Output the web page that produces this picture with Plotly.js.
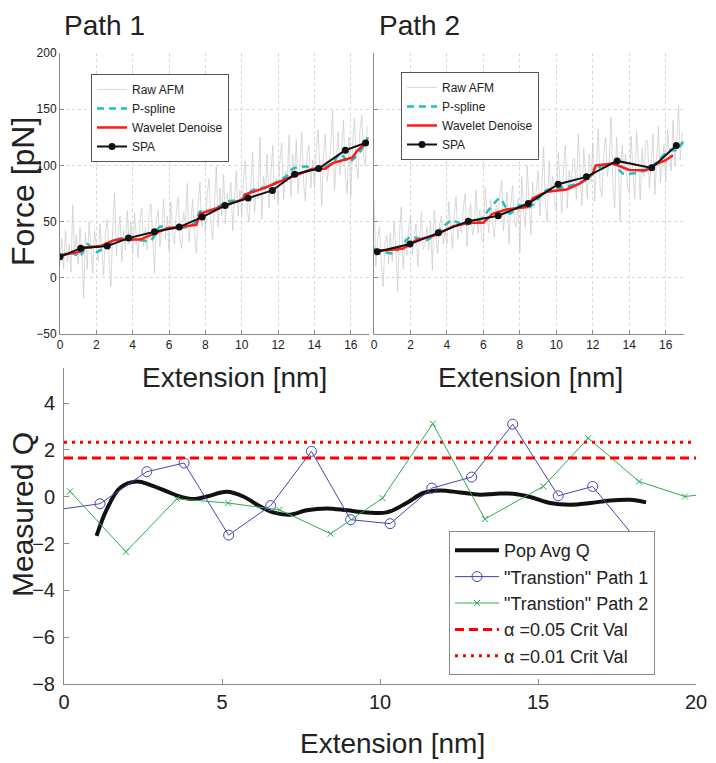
<!DOCTYPE html>
<html>
<head>
<meta charset="utf-8">
<script src="https://cdn.plot.ly/plotly-3.0.1.min.js"></script>
<style>
  html, body { margin: 0; padding: 0; background: #fff; }
  #chart { width: 716px; height: 763px; }
</style>
</head>
<body>
<div id="chart"></div>
<script>
// ---- Path 1 (top left) ----
var rawStep = 0.1;
var raw1 = [18, 35, 8, 42, 14, 30, 5, 65, 20, 38,
  12, 45, 22, -18, 40, 8, 50, 25, 4, 42,
  30, 15, 48, 20, 2, 40, 52, 18, -8, 45,
  75, 20, 38, 55, 14, 42, 25, 60, 30, 50,
  22, 58, 35, 18, 50, 62, 28, 45, 25, 55,
  66, 30, 4, 52, 60, 28, 45, 70, 35, 55,
  24, 68, 40, 30, 60, 72, 35, 26, 58, 48,
  84, 32, 55, 70, 40, 22, 65, 85, 45, 60,
  40, 75, 88, 50, 34, 70, 99, 45, 80, 55,
  92, 48, 75, 62, 85, 42, 70, 95, 55, 78,
  55, 90, 104, 60, 50, 85, 112, 58, 80, 70,
  125, 52, 90, 75, 110, 62, 95, 118, 70, 88,
  66, 105, 120, 70, 95, 85, 127, 72, 110, 90,
  122, 75, 100, 130, 85, 68, 110, 118, 80, 105,
  80, 115, 132, 90, 64, 110, 128, 86, 100, 120,
  149, 78, 105, 130, 92, 115, 140, 90, 75, 125,
  72, 120, 142, 100, 88, 130, 145, 110, 100, 135];
var pspl1X = [0, 0.55, 1.1, 1.5, 2.0, 2.75, 3.3, 4.4, 5.0, 5.5, 6.2, 7.1, 7.5, 7.7, 8.4, 9.2, 9.9, 10.6, 11.4, 12.5, 12.8, 13.55, 14.1, 15.0, 15.4, 15.9, 16.5, 16.94];
var pspl1Y = [18.7, 23, 19, 30, 23, 30, 35, 33.5, 33, 45.5, 44, 45.6, 50, 59, 60, 68, 69, 78, 81, 91, 97, 99, 95.7, 102, 110.5, 103, 112, 125];
var wav1X = [0, 1.1, 1.3, 2.2, 2.9, 3.2, 4.4, 5.1, 5.9, 7.0, 7.5, 7.7, 8.4, 9.3, 10.1, 10.15, 11.2, 12.3, 13.2, 13.9, 14.6, 15.0, 15.75, 16.1, 16.3, 16.7, 16.95];
var wav1Y = [20, 23, 27, 28, 33, 34, 34, 39, 44, 46, 47, 57, 61, 66, 70, 74, 79.5, 87, 93, 97, 97, 102, 105.5, 107, 112, 118, 122];
var spa1X = [0, 1.14, 2.6, 3.77, 5.2, 6.56, 7.82, 9.08, 10.35, 11.68, 12.91, 14.23, 15.7, 16.81];
var spa1Y = [18.7, 26.4, 28.2, 35.3, 41, 45.1, 54, 64.3, 70.9, 77.7, 92.2, 97.2, 113.5, 120];

// ---- Path 2 (top right) ----
var raw2 = [69, 10, 35, 45, 15, -8, 30, 38, 12, 40,
  15, 50, 28, -12, 40, 63, 8, 35, 20, 45,
  55, 20, 38, 48, 10, 40, 58, 25, 30, 45,
  25, 50, 7, 60, 35, 22, 48, 55, 30, 42,
  30, 68, 45, 26, 55, 72, 34, 50, 40, 62,
  75, 28, 55, 66, 38, 45, 78, 40, 60, 35,
  32, 80, 55, 40, 70, 48, 36, 65, 58, 72,
  87, 42, 60, 76, 30, 65, 82, 50, 45, 70,
  22, 90, 60, 45, 100, 70, 38, 85, 62, 78,
  95, 55, 80, 116, 65, 50, 104, 75, 90, 70,
  60, 112, 85, 58, 100, 118, 62, 95, 80, 105,
  106, 70, 128, 88, 64, 115, 95, 70, 110, 85,
  120, 68, 100, 132, 80, 72, 110, 125, 90, 105,
  143, 85, 62, 125, 100, 50, 118, 95, 110, 80,
  76, 126, 95, 70, 130, 105, 69, 115, 90, 122,
  122, 80, 100, 128, 74, 110, 135, 85, 100, 118,
  85, 132, 110, 95, 140, 100, 120, 153, 105, 130];
var pspl2X = [0, 1.06, 2.0, 2.9, 4.26, 4.9, 5.8, 6.9, 7.45, 8.0, 8.55, 9.46, 10.56, 11.65, 12.4, 13.1, 13.66, 14.6, 15.3, 16.2, 16.58, 16.95];
var pspl2Y = [26, 21.7, 36.5, 33.5, 51, 47, 51.3, 70.6, 57, 64.6, 63, 78, 81, 87, 98.7, 101.6, 92.8, 94, 100, 113.5, 113.5, 121];
var wav2X = [0, 0.7, 1.6, 2.3, 3.4, 4.35, 5.26, 6.0, 6.5, 7.3, 8.4, 8.7, 9.46, 10.56, 11.3, 12.0, 12.16, 13.1, 14.0, 14.94, 15.3, 16.0, 16.4];
var wav2Y = [24.6, 24.6, 26, 33.5, 38, 46, 49, 49, 57, 61, 63, 70.6, 76.5, 78.6, 84, 92.8, 100, 101.6, 96, 95.7, 100, 104.6, 109];
var spa2X = [0.18, 1.97, 3.53, 5.17, 6.81, 8.46, 10.1, 11.65, 13.33, 15.23, 16.58];
var spa2Y = [23.2, 30, 40, 50.4, 55.2, 66.1, 83.3, 89.8, 104, 97.8, 117.7];

// ---- Measured Q (bottom) ----
var popX = [1.03, 1.35, 1.77, 2.3, 2.72, 3.25, 3.67, 4.09, 4.52, 5.15, 5.67, 6.2, 6.62, 7.15, 7.68, 8.31, 8.95, 9.58, 10.21, 10.84, 11.37, 11.9, 12.53, 13.16, 13.69, 14.22, 14.75, 15.38, 16.01, 16.65, 17.28, 17.91, 18.42];
var popY = [-1.67, -0.55, 0.37, 0.65, 0.51, 0.23, 0.01, -0.1, 0.01, 0.21, 0.01, -0.41, -0.67, -0.77, -0.58, -0.5, -0.58, -0.67, -0.67, -0.27, 0.16, 0.27, 0.18, 0.09, 0.13, 0.13, -0.01, -0.27, -0.34, -0.27, -0.16, -0.13, -0.24];
var tp1X = [-0.2, 1.14, 2.62, 3.8, 5.21, 6.54, 7.83, 9.07, 10.32, 11.64, 12.9, 14.2, 15.64, 16.73, 18.08];
var tp1Y = [-0.55, -0.3, 1.07, 1.44, -1.64, -0.38, 1.94, -0.98, -1.15, 0.37, 0.84, 3.1, 0.04, 0.44, -1.77];
var tp2X = [0.19, 1.96, 3.57, 5.2, 6.82, 8.44, 10.08, 11.67, 13.32, 15.17, 16.59, 18.2, 19.65, 21.2];
var tp2Y = [0.23, -2.35, -0.09, -0.27, -0.56, -1.58, -0.06, 3.12, -0.95, 0.44, 2.5, 0.65, 0.01, 0.25];
var crit05 = 1.65, crit01 = 2.33;
var critX = [0, 20];

var rawX1 = raw1.map(function(_, i) { return i * rawStep; });
var rawX2 = raw2.map(function(_, i) { return i * rawStep; });

var FONT = 'Liberation Sans, Arial, Helvetica, sans-serif';
var W = 716, H = 763;
function px(x) { return x / W; }
function py(y) { return 1 - y / H; }

function topTraces(xa, ya, leg, rx, ry, psx, psy, wx, wy, sx, sy) {
  return [
    {x: rx, y: ry, xaxis: xa, yaxis: ya, legend: leg, name: 'Raw AFM', mode: 'lines',
     line: {color: '#c8c8c8', width: 0.7}},
    {x: psx, y: psy, xaxis: xa, yaxis: ya, legend: leg, name: 'P-spline', mode: 'lines',
     line: {color: '#1fbfbf', width: 2.5, dash: '7px,5px', shape: 'spline', smoothing: 0.6}},
    {x: wx, y: wy, xaxis: xa, yaxis: ya, legend: leg, name: 'Wavelet Denoise', mode: 'lines',
     line: {color: '#ff1a1a', width: 2.5}},
    {x: sx, y: sy, xaxis: xa, yaxis: ya, legend: leg, name: 'SPA', mode: 'lines+markers',
     line: {color: '#111', width: 2}, marker: {color: '#111', size: 7}}
  ];
}

var data = []
  .concat(topTraces('x', 'y', 'legend', rawX1, raw1, pspl1X, pspl1Y, wav1X, wav1Y, spa1X, spa1Y))
  .concat(topTraces('x2', 'y2', 'legend2', rawX2, raw2, pspl2X, pspl2Y, wav2X, wav2Y, spa2X, spa2Y))
  .concat([
    {x: popX, y: popY, xaxis: 'x3', yaxis: 'y3', legend: 'legend3', name: 'Pop Avg Q', mode: 'lines',
     line: {color: '#111', width: 4, shape: 'spline', smoothing: 1}},
    {x: tp1X, y: tp1Y, xaxis: 'x3', yaxis: 'y3', legend: 'legend3', name: '"Transtion" Path 1', mode: 'lines+markers',
     line: {color: '#4545b0', width: 1}, marker: {symbol: 'circle-open', size: 10, color: '#4545b0', line: {width: 1}}},
    {x: tp2X, y: tp2Y, xaxis: 'x3', yaxis: 'y3', legend: 'legend3', name: '"Transtion" Path 2', mode: 'lines+markers',
     line: {color: '#2eaa4e', width: 1}, marker: {symbol: 'x-thin', size: 6, color: '#2eaa4e', line: {width: 1, color: '#2eaa4e'}}},
    {x: critX, y: [crit05, crit05], xaxis: 'x3', yaxis: 'y3', legend: 'legend3', name: 'α =0.05 Crit Val', mode: 'lines',
     line: {color: '#ff0000', width: 3, dash: '9px,5px'}},
    {x: critX, y: [crit01, crit01], xaxis: 'x3', yaxis: 'y3', legend: 'legend3', name: 'α =0.01 Crit Val', mode: 'lines',
     line: {color: '#ff0000', width: 3, dash: '3px,5px'}}
  ]);

var axTop = {
  showline: true, linecolor: '#8a8a8a', linewidth: 1,
  ticks: 'inside', ticklen: 4, tickcolor: '#8a8a8a',
  showgrid: true, gridcolor: '#d6d6d6', griddash: 'dot', zeroline: false,
  tickfont: {size: 12, family: FONT, color: '#222'}
};
function merge(a, b) { return Object.assign({}, a, b); }

var legTop = {
  xanchor: 'left', yanchor: 'top', bgcolor: '#fff', bordercolor: '#555', borderwidth: 1,
  font: {size: 12, family: FONT, color: '#222'}, tracegroupgap: 0
};

var layout = {
  width: W, height: H,
  margin: {l: 0, r: 0, t: 0, b: 0},
  paper_bgcolor: '#fff', plot_bgcolor: 'rgba(0,0,0,0)',
  font: {family: FONT, color: '#222'},
  xaxis: merge(axTop, {domain: [px(60), px(369)], range: [0, 17], dtick: 2, anchor: 'y'}),
  yaxis: merge(axTop, {domain: [py(334), py(53)], range: [-50, 200], dtick: 50, anchor: 'x'}),
  xaxis2: merge(axTop, {domain: [px(374), px(684)], range: [0, 17], dtick: 2, anchor: 'y2'}),
  yaxis2: merge(axTop, {domain: [py(334), py(53)], range: [-50, 200], dtick: 50, anchor: 'x2', showticklabels: false}),
  xaxis3: {domain: [px(64), px(696)], range: [0, 20], dtick: 5, anchor: 'y3',
    showline: true, linecolor: '#8a8a8a', ticks: 'inside', ticklen: 5, tickcolor: '#8a8a8a',
    showgrid: false, zeroline: false, tickfont: {size: 20, family: FONT, color: '#222'}},
  yaxis3: {domain: [py(684), py(368)], range: [-8, 5.5], tickvals: [-8, -6, -4, -2, 0, 2, 4], anchor: 'x3',
    showline: true, linecolor: '#8a8a8a', ticks: 'inside', ticklen: 5, tickcolor: '#8a8a8a',
    showgrid: false, zeroline: false, ticklabelstandoff: 4, tickfont: {size: 20, family: FONT, color: '#222'}},
  legend: merge(legTop, {x: px(91), y: py(74)}),
  legend2: merge(legTop, {x: px(401), y: py(72)}),
  legend3: {x: px(449), y: py(531), xanchor: 'left', yanchor: 'top', bgcolor: '#fff', itemwidth: 44,
    bordercolor: '#888', borderwidth: 1, font: {size: 18, family: FONT, color: '#222'}, tracegroupgap: 0},
  showlegend: true,
  annotations: [
    {text: 'Path 1', xref: 'paper', yref: 'paper', x: px(62), y: py(25), xanchor: 'left', yanchor: 'middle',
     showarrow: false, font: {size: 28, family: FONT, color: '#222'}},
    {text: 'Path 2', xref: 'paper', yref: 'paper', x: px(377), y: py(25), xanchor: 'left', yanchor: 'middle',
     showarrow: false, font: {size: 28, family: FONT, color: '#222'}},
    {text: 'Force [pN]', xref: 'paper', yref: 'paper', x: px(23), y: py(192), textangle: -90,
     xanchor: 'center', yanchor: 'middle', showarrow: false, font: {size: 32, family: FONT, color: '#222'}},
    {text: 'Extension [nm]', xref: 'paper', yref: 'paper', x: px(234), y: py(377), xanchor: 'center', yanchor: 'middle',
     showarrow: false, font: {size: 28, family: FONT, color: '#222'}},
    {text: 'Extension [nm]', xref: 'paper', yref: 'paper', x: px(530), y: py(377), xanchor: 'center', yanchor: 'middle',
     showarrow: false, font: {size: 28, family: FONT, color: '#222'}},
    {text: 'Measured Q', xref: 'paper', yref: 'paper', x: px(22), y: py(515), textangle: -90,
     xanchor: 'center', yanchor: 'middle', showarrow: false, font: {size: 30, family: FONT, color: '#222'}},
    {text: 'Extension [nm]', xref: 'paper', yref: 'paper', x: px(392), y: py(743), xanchor: 'center', yanchor: 'middle',
     showarrow: false, font: {size: 28, family: FONT, color: '#222'}}
  ]
};

Plotly.newPlot('chart', data, layout, {displayModeBar: false, staticPlot: true});
</script>
</body>
</html>
